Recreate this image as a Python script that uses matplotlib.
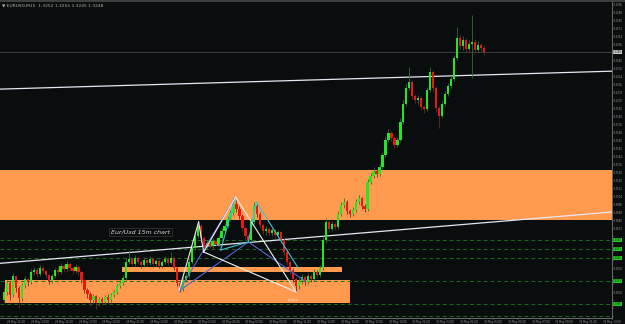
import numpy as np
import pandas as pd
import matplotlib
matplotlib.use('Agg')
import matplotlib.pyplot as plt
from matplotlib.patches import Rectangle

# ---- data (EURUSD M15) ----
first_open = 1.3000
close = [1.3008, 1.3017, 1.3005, 1.3024, 1.3012, 1.3002, 1.3015, 1.3021, 1.3018, 1.3028,
         1.3030, 1.3026, 1.3032, 1.3029, 1.3025, 1.3019, 1.3024, 1.3030, 1.3028, 1.3034,
         1.3031, 1.3036, 1.3032, 1.3029, 1.3033, 1.3028, 1.3020, 1.3010, 1.3006, 1.3000,
         1.3004, 1.2997, 1.3001, 1.2998, 1.3003, 1.3000, 1.3005, 1.3008, 1.3014, 1.3017,
         1.3022, 1.3038, 1.3041, 1.3036, 1.3042, 1.3038, 1.3035, 1.3040, 1.3037, 1.3041,
         1.3036, 1.3039, 1.3034, 1.3038, 1.3041, 1.3037, 1.3042, 1.3032, 1.3017, 1.3011,
         1.3020, 1.3024, 1.3038, 1.3052, 1.3064, 1.3074, 1.3062, 1.3053, 1.3057, 1.3054,
         1.3059, 1.3056, 1.3062, 1.3069, 1.3074, 1.3081, 1.3087, 1.3096, 1.3091, 1.3084,
         1.3072, 1.3064, 1.3060, 1.3078, 1.3094, 1.3086, 1.3075, 1.3069, 1.3071, 1.3067,
         1.3070, 1.3065, 1.3068, 1.3060, 1.3048, 1.3038, 1.3030, 1.3021, 1.3014, 1.3019,
         1.3023, 1.3018, 1.3024, 1.3021, 1.3028, 1.3025, 1.3032, 1.3060, 1.3078, 1.3071,
         1.3076, 1.3073, 1.3086, 1.3095, 1.3098, 1.3089, 1.3086, 1.3090, 1.3098, 1.3102,
         1.3094, 1.3091, 1.3118, 1.3124, 1.3129, 1.3126, 1.3133, 1.3145, 1.3160, 1.3167,
         1.3162, 1.3155, 1.3160, 1.3178, 1.3196, 1.3212, 1.3218, 1.3204, 1.3200, 1.3202,
         1.3193, 1.3191, 1.3210, 1.3228, 1.3212, 1.3192, 1.3184, 1.3196, 1.3206, 1.3214,
         1.3221, 1.3242, 1.3262, 1.3254, 1.3260, 1.3251, 1.3256, 1.3258, 1.3250, 1.3255,
         1.3252, 1.3248]
high = [1.3012, 1.3020, 1.3019, 1.3027, 1.3025, 1.3014, 1.3017, 1.3024, 1.3023, 1.3031,
        1.3033, 1.3032, 1.3035, 1.3034, 1.3030, 1.3026, 1.3026, 1.3032, 1.3033, 1.3037,
        1.3036, 1.3039, 1.3038, 1.3034, 1.3036, 1.3035, 1.3030, 1.3022, 1.3012, 1.3008,
        1.3006, 1.3005, 1.3003, 1.3003, 1.3005, 1.3006, 1.3007, 1.3010, 1.3016, 1.3020,
        1.3025, 1.3042, 1.3050, 1.3043, 1.3045, 1.3044, 1.3040, 1.3043, 1.3041, 1.3044,
        1.3043, 1.3041, 1.3041, 1.3040, 1.3044, 1.3043, 1.3048, 1.3044, 1.3034, 1.3020,
        1.3023, 1.3027, 1.3042, 1.3055, 1.3067, 1.3079, 1.3076, 1.3064, 1.3060, 1.3059,
        1.3062, 1.3061, 1.3065, 1.3072, 1.3077, 1.3084, 1.3090, 1.3102, 1.3100, 1.3094,
        1.3086, 1.3074, 1.3066, 1.3081, 1.3098, 1.3096, 1.3088, 1.3077, 1.3074, 1.3073,
        1.3072, 1.3071, 1.3070, 1.3069, 1.3062, 1.3050, 1.3040, 1.3032, 1.3023, 1.3022,
        1.3026, 1.3025, 1.3027, 1.3026, 1.3031, 1.3030, 1.3035, 1.3064, 1.3082, 1.3080,
        1.3079, 1.3078, 1.3089, 1.3098, 1.3102, 1.3100, 1.3091, 1.3093, 1.3101, 1.3105,
        1.3103, 1.3096, 1.3121, 1.3127, 1.3133, 1.3131, 1.3136, 1.3148, 1.3164, 1.3171,
        1.3169, 1.3164, 1.3163, 1.3182, 1.3200, 1.3216, 1.3233, 1.3220, 1.3206, 1.3205,
        1.3204, 1.3195, 1.3213, 1.3233, 1.3230, 1.3214, 1.3194, 1.3199, 1.3209, 1.3217,
        1.3224, 1.3245, 1.3273, 1.3266, 1.3264, 1.3262, 1.3260, 1.3285, 1.3261, 1.3259,
        1.3257, 1.3255]
low = [1.2998, 1.3005, 1.3000, 1.3003, 1.3008, 1.2992, 1.2999, 1.3012, 1.3014, 1.3016,
       1.3025, 1.3023, 1.3024, 1.3027, 1.3022, 1.3016, 1.3017, 1.3022, 1.3025, 1.3026,
       1.3028, 1.3029, 1.3030, 1.3026, 1.3027, 1.3025, 1.3017, 1.3007, 1.3002, 1.2994,
       1.2997, 1.2991, 1.2994, 1.2995, 1.2996, 1.2997, 1.2998, 1.3003, 1.3006, 1.3012,
       1.3015, 1.3020, 1.3036, 1.3034, 1.3034, 1.3036, 1.3032, 1.3033, 1.3034, 1.3035,
       1.3033, 1.3034, 1.3032, 1.3032, 1.3036, 1.3035, 1.3036, 1.3030, 1.3014, 1.3008,
       1.3009, 1.3018, 1.3022, 1.3036, 1.3050, 1.3062, 1.3059, 1.3050, 1.3051, 1.3052,
       1.3052, 1.3054, 1.3054, 1.3060, 1.3067, 1.3072, 1.3079, 1.3085, 1.3088, 1.3081,
       1.3069, 1.3061, 1.3057, 1.3058, 1.3076, 1.3083, 1.3072, 1.3066, 1.3065, 1.3064,
       1.3064, 1.3062, 1.3063, 1.3057, 1.3045, 1.3035, 1.3026, 1.3018, 1.3008, 1.3011,
       1.3016, 1.3015, 1.3016, 1.3018, 1.3019, 1.3022, 1.3023, 1.3030, 1.3057, 1.3068,
       1.3069, 1.3070, 1.3071, 1.3084, 1.3092, 1.3086, 1.3083, 1.3084, 1.3088, 1.3096,
       1.3091, 1.3088, 1.3089, 1.3116, 1.3122, 1.3123, 1.3124, 1.3131, 1.3143, 1.3158,
       1.3159, 1.3152, 1.3153, 1.3158, 1.3176, 1.3194, 1.3210, 1.3201, 1.3197, 1.3196,
       1.3190, 1.3187, 1.3189, 1.3208, 1.3209, 1.3188, 1.3172, 1.3182, 1.3194, 1.3204,
       1.3212, 1.3219, 1.3240, 1.3251, 1.3250, 1.3248, 1.3249, 1.3222, 1.3247, 1.3248,
       1.3249, 1.3245]

# zones drawn on the chart: (bar_start, bar_end, price_low, price_high)
zone_upper = (-5, 210, 1.3080, 1.3130)
zone_lower = (0.3, 116, 1.2997, 1.3020)
zone_thin = (39.7, 113.3, 1.3028, 1.3033)

# trend lines through two anchors (bar, price)
trend_upper = [(0, 1.3211), (160, 1.3225)]
trend_lower = [(0, 1.3037), (160, 1.3077)]

# horizontal dashed levels
levels = [1.3060, 1.3051, 1.3042, 1.3019, 1.2996, 1.2984]

# harmonic pattern legs: (bar, price) pairs
white_legs = [((58.7, 1.3009), (65.3, 1.3078)),
              ((65.3, 1.3078), (67.0, 1.3048)),
              ((67.0, 1.3048), (77.7, 1.3103)),
              ((77.7, 1.3103), (98.0, 1.3008)),
              ((67.0, 1.3048), (98.0, 1.3008))]
blue_legs = [((58.7, 1.3009), (77.7, 1.3103)),
             ((58.7, 1.3009), (82.0, 1.3058)),
             ((82.0, 1.3058), (101.0, 1.3019))]
cyan_legs = [((72.7, 1.3050), (77.7, 1.3103)),
             ((72.7, 1.3050), (82.0, 1.3058)),
             ((82.0, 1.3058), (84.7, 1.3098)),
             ((84.7, 1.3098), (98.7, 1.3032))]

bar_times = pd.date_range('2013-05-29 10:00', periods=205, freq='15min')

# ---- figure ----
BG = '#0a0d0d'
ORANGE = '#ff9a4e'
fig = plt.figure(figsize=(6.25, 3.24), dpi=100, facecolor=BG)
ax = fig.add_axes([0.0, 0.0185, 612 / 625, 0.9753])
ax.set_facecolor(BG)

opens = [first_open] + close[:-1]
x = np.arange(len(close))

for z in (zone_upper, zone_lower, zone_thin):
    ax.add_patch(Rectangle((z[0], z[2]), z[1] - z[0], z[3] - z[2],
                           facecolor=ORANGE, edgecolor='none', zorder=1))

for lv in levels:
    ax.axhline(lv, color='#1c6a1c', lw=0.7, ls=(0, (4, 3)), zorder=2)

ax.axhline(close[-1], color='#3c3f3f', lw=0.7, zorder=2)

for p in (trend_upper, trend_lower):
    ax.axline(p[0], p[1], color='#e6e6f5', lw=0.9, zorder=3)

# candles
for i in x:
    o, c, h, l = opens[i], close[i], high[i], low[i]
    up = c >= o
    wick = '#2f6f2f' if up else '#6f2525'
    body = '#22e822' if up else '#ee1515'
    ax.vlines(i, l, h, color=wick, lw=0.6, zorder=4)
    ax.bar(i, max(abs(c - o), 0.00006), bottom=min(o, c), width=0.75,
           color=body, linewidth=0, zorder=5)

for legs, col in ((blue_legs, '#5566cc'), (cyan_legs, '#3cc4d4'), (white_legs, '#f0f0f0')):
    for a, b in legs:
        ax.plot([a[0], b[0]], [a[1], b[1]], color=col, lw=0.8, zorder=6)

ax.text(36, 1.3068, 'Eur/Usd 15m chart', color='#d8d8d8', fontsize=4.5,
        style='italic', va='center', zorder=7,
        bbox=dict(boxstyle='square,pad=0.3', fc=BG, ec='#3a3a3a', lw=0.5))
ax.text(97, 1.2999, 'shark', color='#f0e0c0', fontsize=3, ha='center', zorder=7)

ax.set_xlim(-1.333, 202.667)
ax.set_ylim(1.2982, 1.3298)

# price scale on the right (plain labels hidden where a highlighted label sits)
marked = levels + [close[-1]]
yt = np.arange(1.2984, 1.32965, 0.0008)
ax.yaxis.tick_right()
ax.set_yticks(yt)
ax.set_yticklabels(['' if min(abs(v - m) for m in marked) < 0.0005 else f'{v:.4f}' for v in yt])
ax.tick_params(axis='y', colors='#9a9a9a', labelsize=1.9, length=1, width=0.5, pad=0.3)

# time scale
tk = np.arange(4, 205, 8)
ax.set_xticks(tk)
ax.set_xticklabels([f'{bar_times[k].day} {bar_times[k]:%b %H:%M}' for k in tk])
ax.tick_params(axis='x', colors='#9a9a9a', labelsize=1.9, length=1, width=0.5, pad=0.3)

for s in ('left', 'top'):
    ax.spines[s].set_visible(False)
ax.spines['right'].set_color('#7a7a7a')
ax.spines['bottom'].set_color('#7a7a7a')
ax.spines['right'].set_linewidth(0.6)
ax.spines['bottom'].set_linewidth(0.6)

# highlighted labels on the price scale
for lv in levels[:-1]:
    ax.annotate(f'{lv:.4f}', xy=(1.0, lv), xycoords=('axes fraction', 'data'),
                xytext=(0.6, 0), textcoords='offset points', fontsize=1.9, color='#0a2a0a',
                va='center', ha='left', annotation_clip=False,
                bbox=dict(boxstyle='square,pad=0.1', fc='#22cc22', ec='none'))
ax.annotate(f'{close[-1]:.4f}', xy=(1.0, close[-1]), xycoords=('axes fraction', 'data'),
            xytext=(0.6, 0), textcoords='offset points', fontsize=1.9, color='#202020',
            va='center', ha='left', annotation_clip=False,
            bbox=dict(boxstyle='square,pad=0.1', fc='#c8c8c8', ec='none'))

# top border and header
fig.add_artist(plt.Line2D([0, 1], [0.997, 0.997], color='#4a4a4a', lw=1.2))
ax.text(0.003, 0.995, '\u25bc EURUSD,M15  %.4f %.4f %.4f %.4f' % (opens[-1], high[-1], low[-1], close[-1]),
        transform=ax.transAxes, color='#b0b0b0', fontsize=3.2, va='top', ha='left', zorder=8)

fig.savefig('out.png', dpi=100, facecolor=BG)
